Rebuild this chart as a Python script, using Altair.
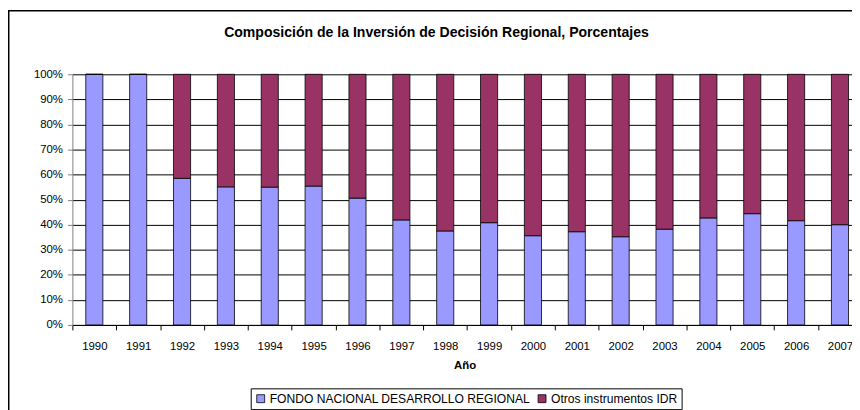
import altair as alt
import pandas as pd

years = ["1990", "1991", "1992", "1993", "1994", "1995", "1996", "1997", "1998",
         "1999", "2000", "2001", "2002", "2003", "2004", "2005", "2006", "2007"]
fondo = [100.0, 100.0, 58.5, 55.1, 55.0, 55.4, 50.6, 41.9, 37.5,
         40.8, 35.6, 37.2, 35.2, 38.2, 42.7, 44.4, 41.6, 40.0]
otros = [0.0, 0.0, 41.5, 44.9, 45.0, 44.6, 49.4, 58.1, 62.5,
         59.2, 64.4, 62.8, 64.8, 61.8, 57.3, 55.6, 58.4, 60.0]
series = ["FONDO NACIONAL DESARROLLO REGIONAL", "Otros instrumentos IDR"]
colors = ["#9999FF", "#993366"]
y_ticks = [0.0, 0.1, 0.2, 0.3, 0.4, 0.5, 0.6, 0.7, 0.8, 0.9, 1.0]
title_text = "Composición de la Inversión de Decisión Regional, Porcentajes"
x_title = "Año"

rows = []
for yr, f, o in zip(years, fondo, otros):
    rows.append({"year": yr, "series": series[0], "value": f, "order": 0})
    rows.append({"year": yr, "series": series[1], "value": o, "order": 1})
df = pd.DataFrame(rows)

FONT = "Liberation Sans"
PLOT_W = 787
PLOT_H = 253
BAND_RANGE = 797
HALF_STEP = BAND_RANGE / len(years) / 2

bars = alt.Chart(df).mark_bar(stroke="#000", strokeWidth=0.8).encode(
    x=alt.X(
        "year:O",
        sort=years,
        scale=alt.Scale(range=[0, BAND_RANGE], paddingInner=0.61, paddingOuter=0.305),
        axis=alt.Axis(
            title=x_title, labelAngle=0, tickOffset=-HALF_STEP, labelOffset=HALF_STEP,
            labelFont=FONT, labelFontSize=11.5, labelColor="#000", labelPadding=11,
            tickSize=5, tickColor="#000", domainColor="#000",
            titleFont=FONT, titleFontSize=11.5, titleFontWeight="bold", titleColor="#000",
            titleX=396, titleY=41.4, titleBaseline="middle", titleAlign="center",
            grid=False,
        ),
    ),
    y=alt.Y(
        "value:Q",
        stack="normalize",
        scale=alt.Scale(domain=[0, 1], nice=False),
        axis=alt.Axis(
            title=None, values=y_ticks, format=".0%",
            labelFont=FONT, labelFontSize=11.5, labelColor="#000", labelPadding=5,
            tickSize=5, tickColor="#808080", domainColor="#808080",
            grid=True, gridColor="#000", gridWidth=1,
        ),
    ),
    color=alt.Color(
        "series:N",
        scale=alt.Scale(domain=series, range=colors),
        legend=alt.Legend(
            title=None, orient="none", legendX=180, legendY=317, direction="horizontal",
            symbolType="square", symbolSize=64, symbolStrokeColor="#000", symbolStrokeWidth=0.8,
            symbolOpacity=1, labelFont=FONT, labelFontSize=12.2, labelColor="#000",
            labelLimit=500, strokeColor="#000", padding=4, columnPadding=6, labelOffset=3,
        ),
    ),
    order=alt.Order("order:Q"),
)

frame = alt.Chart(pd.DataFrame({"k": [0]})).mark_rect(
    fill="transparent", stroke="#000", strokeWidth=1.5
).encode(
    x=alt.value(-64.25), x2=alt.value(900), y=alt.value(-64.25), y2=alt.value(500)
)

title_mark = alt.Chart(pd.DataFrame({"k": [0]})).mark_text(
    font=FONT, fontSize=14.2, fontWeight="bold", baseline="alphabetic", align="center", color="#000"
).encode(
    x=alt.value(367.5), y=alt.value(-38), text=alt.value(title_text)
)

chart = alt.layer(frame, bars, title_mark).properties(
    width=PLOT_W,
    height=PLOT_H,
    autosize=alt.AutoSizeParams(type="none"),
    padding={"left": 65, "top": 65, "right": 0, "bottom": 92},
).configure_view(stroke="transparent")

chart.save("out.html", embed_options={"renderer": "svg", "actions": False})
